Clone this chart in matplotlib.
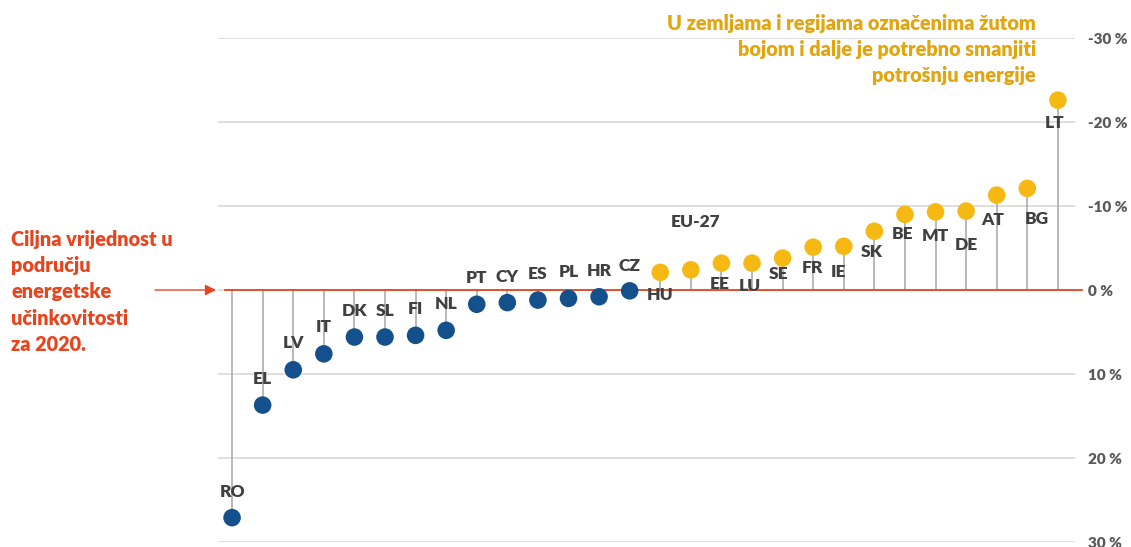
import matplotlib
matplotlib.use("Agg")
import matplotlib.pyplot as plt

countries = ["RO", "EL", "LV", "IT", "DK", "SL", "FI", "NL", "PT", "CY", "ES", "PL", "HR", "CZ",
             "HU", "EU-27", "EE", "LU", "SE", "FR", "IE", "SK", "BE", "MT", "DE", "AT", "BG", "LT"]
values = [27.1, 13.7, 9.5, 7.6, 5.6, 5.6, 5.4, 4.8, 1.7, 1.5, 1.2, 1.0, 0.8, 0.1,
          -2.1, -2.4, -3.2, -3.2, -3.8, -5.1, -5.2, -7.0, -9.0, -9.3, -9.4, -11.3, -12.1, -22.6]
# label placement (data y, x shift in category units)
label_y = [24.0, 10.6, 6.3, 4.4, 2.5, 2.5, 2.3, 1.7, -1.4, -1.5, -1.9, -2.1, -2.3, -2.9,
           0.6, -8.1, -0.7, -0.5, -1.9, -2.6, -2.1, -4.5, -6.7, -6.4, -5.4, -8.3, -8.5, -19.9]
label_dx = [0, 0, 0, 0, 0, 0, 0, 0, 0, 0, 0, 0, 0, 0,
            0, 0.15, -0.07, -0.07, -0.13, -0.03, -0.17, -0.1, -0.07, 0, 0, -0.13, 0.3, -0.1]
yticks = [-30, -20, -10, 0, 10, 20, 30]
ytick_labels = ["-30 %", "-20 %", "-10 %", "0 %", "10 %", "20 %", "30 %"]

plt.rcParams['font.family'] = ['Lato', 'DejaVu Sans']

BLUE = "#14518C"
YELLOW = "#F6B914"
RED = "#E8451E"
GOLD = "#E3A50C"
LABEL = "#404040"

W, H = 1131, 547
fig = plt.figure(figsize=(W / 100, H / 100), dpi=100)
ax_l, ax_r, ax_t, ax_b = 218, 1075, 38, 542
ax = fig.add_axes([ax_l / W, 1 - ax_b / H, (ax_r - ax_l) / W, (ax_b - ax_t) / H])

x = list(range(len(countries)))
ax.set_xlim(-0.46, len(countries) - 1 + 0.56)
ax.set_ylim(30, -30)

for t in yticks:
    ax.axhline(t, color="#D9D9D9", lw=1.2, zorder=0)

# stems
ax.vlines(x, 0, values, color="#A6A6A6", lw=1.1, zorder=1)

colors = [BLUE if v > 0 else YELLOW for v in values]
ax.scatter(x, values, s=160, c=colors, zorder=3, linewidths=0)

# target line (zero)
ax.plot([0.008, 1.008], [0.5, 0.5], transform=ax.transAxes, color=RED, lw=1.3,
        clip_on=False, zorder=2)

for xi, name, ly, dx in zip(x, countries, label_y, label_dx):
    ax.text(xi + dx, ly, name, ha="center", va="center", fontsize=12.5,
            fontweight="heavy", color=LABEL, zorder=4)

ax.set_yticks(yticks)
ax.set_yticklabels(ytick_labels)
ax.yaxis.tick_right()
ax.tick_params(axis="y", length=0, pad=9, labelsize=11, labelcolor="#595959")
for lab in ax.get_yticklabels():
    lab.set_fontweight("heavy")
ax.set_xticks([])
for s in ax.spines.values():
    s.set_visible(False)

# arrow pointing to target line
ax.annotate("", xy=(216, H - 290), xycoords="figure pixels",
            xytext=(155, H - 290), textcoords="figure pixels",
            arrowprops=dict(arrowstyle="-|>", color=RED, lw=1.0, mutation_scale=16,
                            shrinkA=0, shrinkB=0))

fig.text(11 / W, 1 - 230 / H,
         "Ciljna vrijednost u\npodručju\nenergetske\nučinkovitosti\nza 2020.",
         ha="left", va="top", fontsize=14.3, fontweight="heavy", color=RED,
         linespacing=1.45)

fig.text(1036 / W, 1 - 14 / H,
         "U zemljama i regijama označenima žutom\nbojom i dalje je potrebno smanjiti\npotrošnju energije",
         ha="right", va="top", fontsize=14.3, fontweight="heavy", color=GOLD,
         linespacing=1.45)

fig.savefig("out.png", dpi=100)
